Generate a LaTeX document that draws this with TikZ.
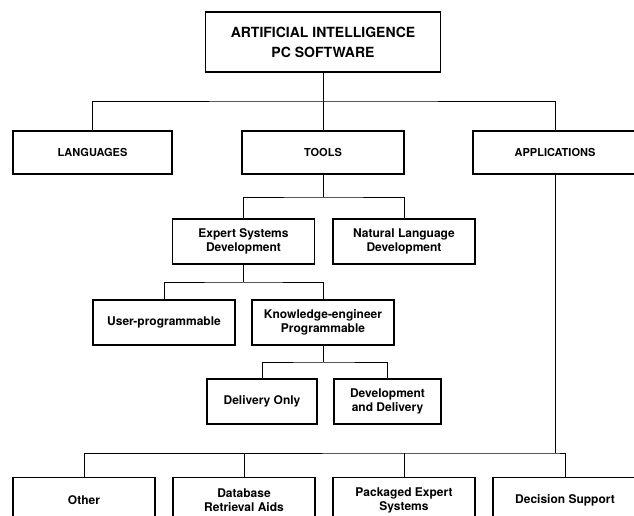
\documentclass[tikz,border=0pt]{standalone}
\usepackage{fontspec}
\setmainfont{TeX Gyre Heros}
\usetikzlibrary{positioning,calc}

\begin{document}
\begin{tikzpicture}[x=1pt, y=-1pt,
    box/.style={draw, line width=1.8pt, rectangle, align=center, inner sep=0pt,
                minimum width=142pt, minimum height=45pt,
                font=\bfseries\fontsize{12}{14}\selectfont},
    topbox/.style={box, minimum height=43pt, font=\bfseries\fontsize{11}{13}\selectfont},
    wire/.style={line width=0.9pt}]
    \useasboundingbox (0,0) rectangle (634,516);
    \clip (0,0) rectangle (634,516);

    % Root
    \node[box, minimum width=235pt, minimum height=60pt,
          font=\bfseries\fontsize{14}{20}\selectfont] (ai) at (323,42)
          {ARTIFICIAL INTELLIGENCE\\PC SOFTWARE};

    % First level
    \node[topbox, minimum width=159pt] (lang)  at (92.5,152.5) {LANGUAGES};
    \node[topbox, minimum width=162pt] (tools) at (323,152.5) {TOOLS};
    \node[topbox, minimum width=164pt] (apps)  at (555,152.5) {APPLICATIONS};

    % Tools branch
    \node[box] (esd) at (243.5,241.5) {Expert Systems\\Development};
    \node[box] (nld) at (404,241.5) {Natural Language\\Development};
    \node[box] (userp) at (164,322.5) {User-programmable};
    \node[box] (kep) at (323,322.5) {Knowledge-engineer\\Programmable};
    \node[box, minimum width=110pt] (delonly) at (262,401.5) {Delivery Only};
    \node[box, minimum width=107pt] (devdel) at (387.5,401.5) {Development\\and Delivery};

    % Applications branch
    \node[box] (other) at (84,500) {Other};
    \node[box] (dbra) at (244,500) {Database\\Retrieval Aids};
    \node[box] (pes) at (404,500) {Packaged Expert\\Systems};
    \node[box, minimum width=144pt] (decsup) at (565,500) {Decision Support};

    % Bus lines
    \coordinate (bus1) at (323,101);
    \coordinate (bus2) at (323,197);
    \coordinate (bus3) at (243.5,282);
    \coordinate (bus4) at (323,362);
    \coordinate (bus5) at (555,453);

    \draw[wire] (ai) -- (tools);
    \draw[wire] (lang.north) |- (bus1) -| (apps.north);

    \draw[wire] (tools) -- (bus2);
    \draw[wire] (esd.north) |- (bus2) -| (nld.north);

    \draw[wire] (esd) -- (bus3);
    \draw[wire] (userp.north) |- (bus3) -| (kep.north);

    \draw[wire] (kep) -- (bus4);
    \draw[wire] (delonly.north) |- (bus4) -| (devdel.north);

    \draw[wire] (apps) -- (bus5);
    \draw[wire] (other.north) |- (bus5) -| (decsup.north);
    \draw[wire] (dbra.north) -- (dbra.north |- bus5);
    \draw[wire] (pes.north) -- (pes.north |- bus5);
\end{tikzpicture}
\end{document}
